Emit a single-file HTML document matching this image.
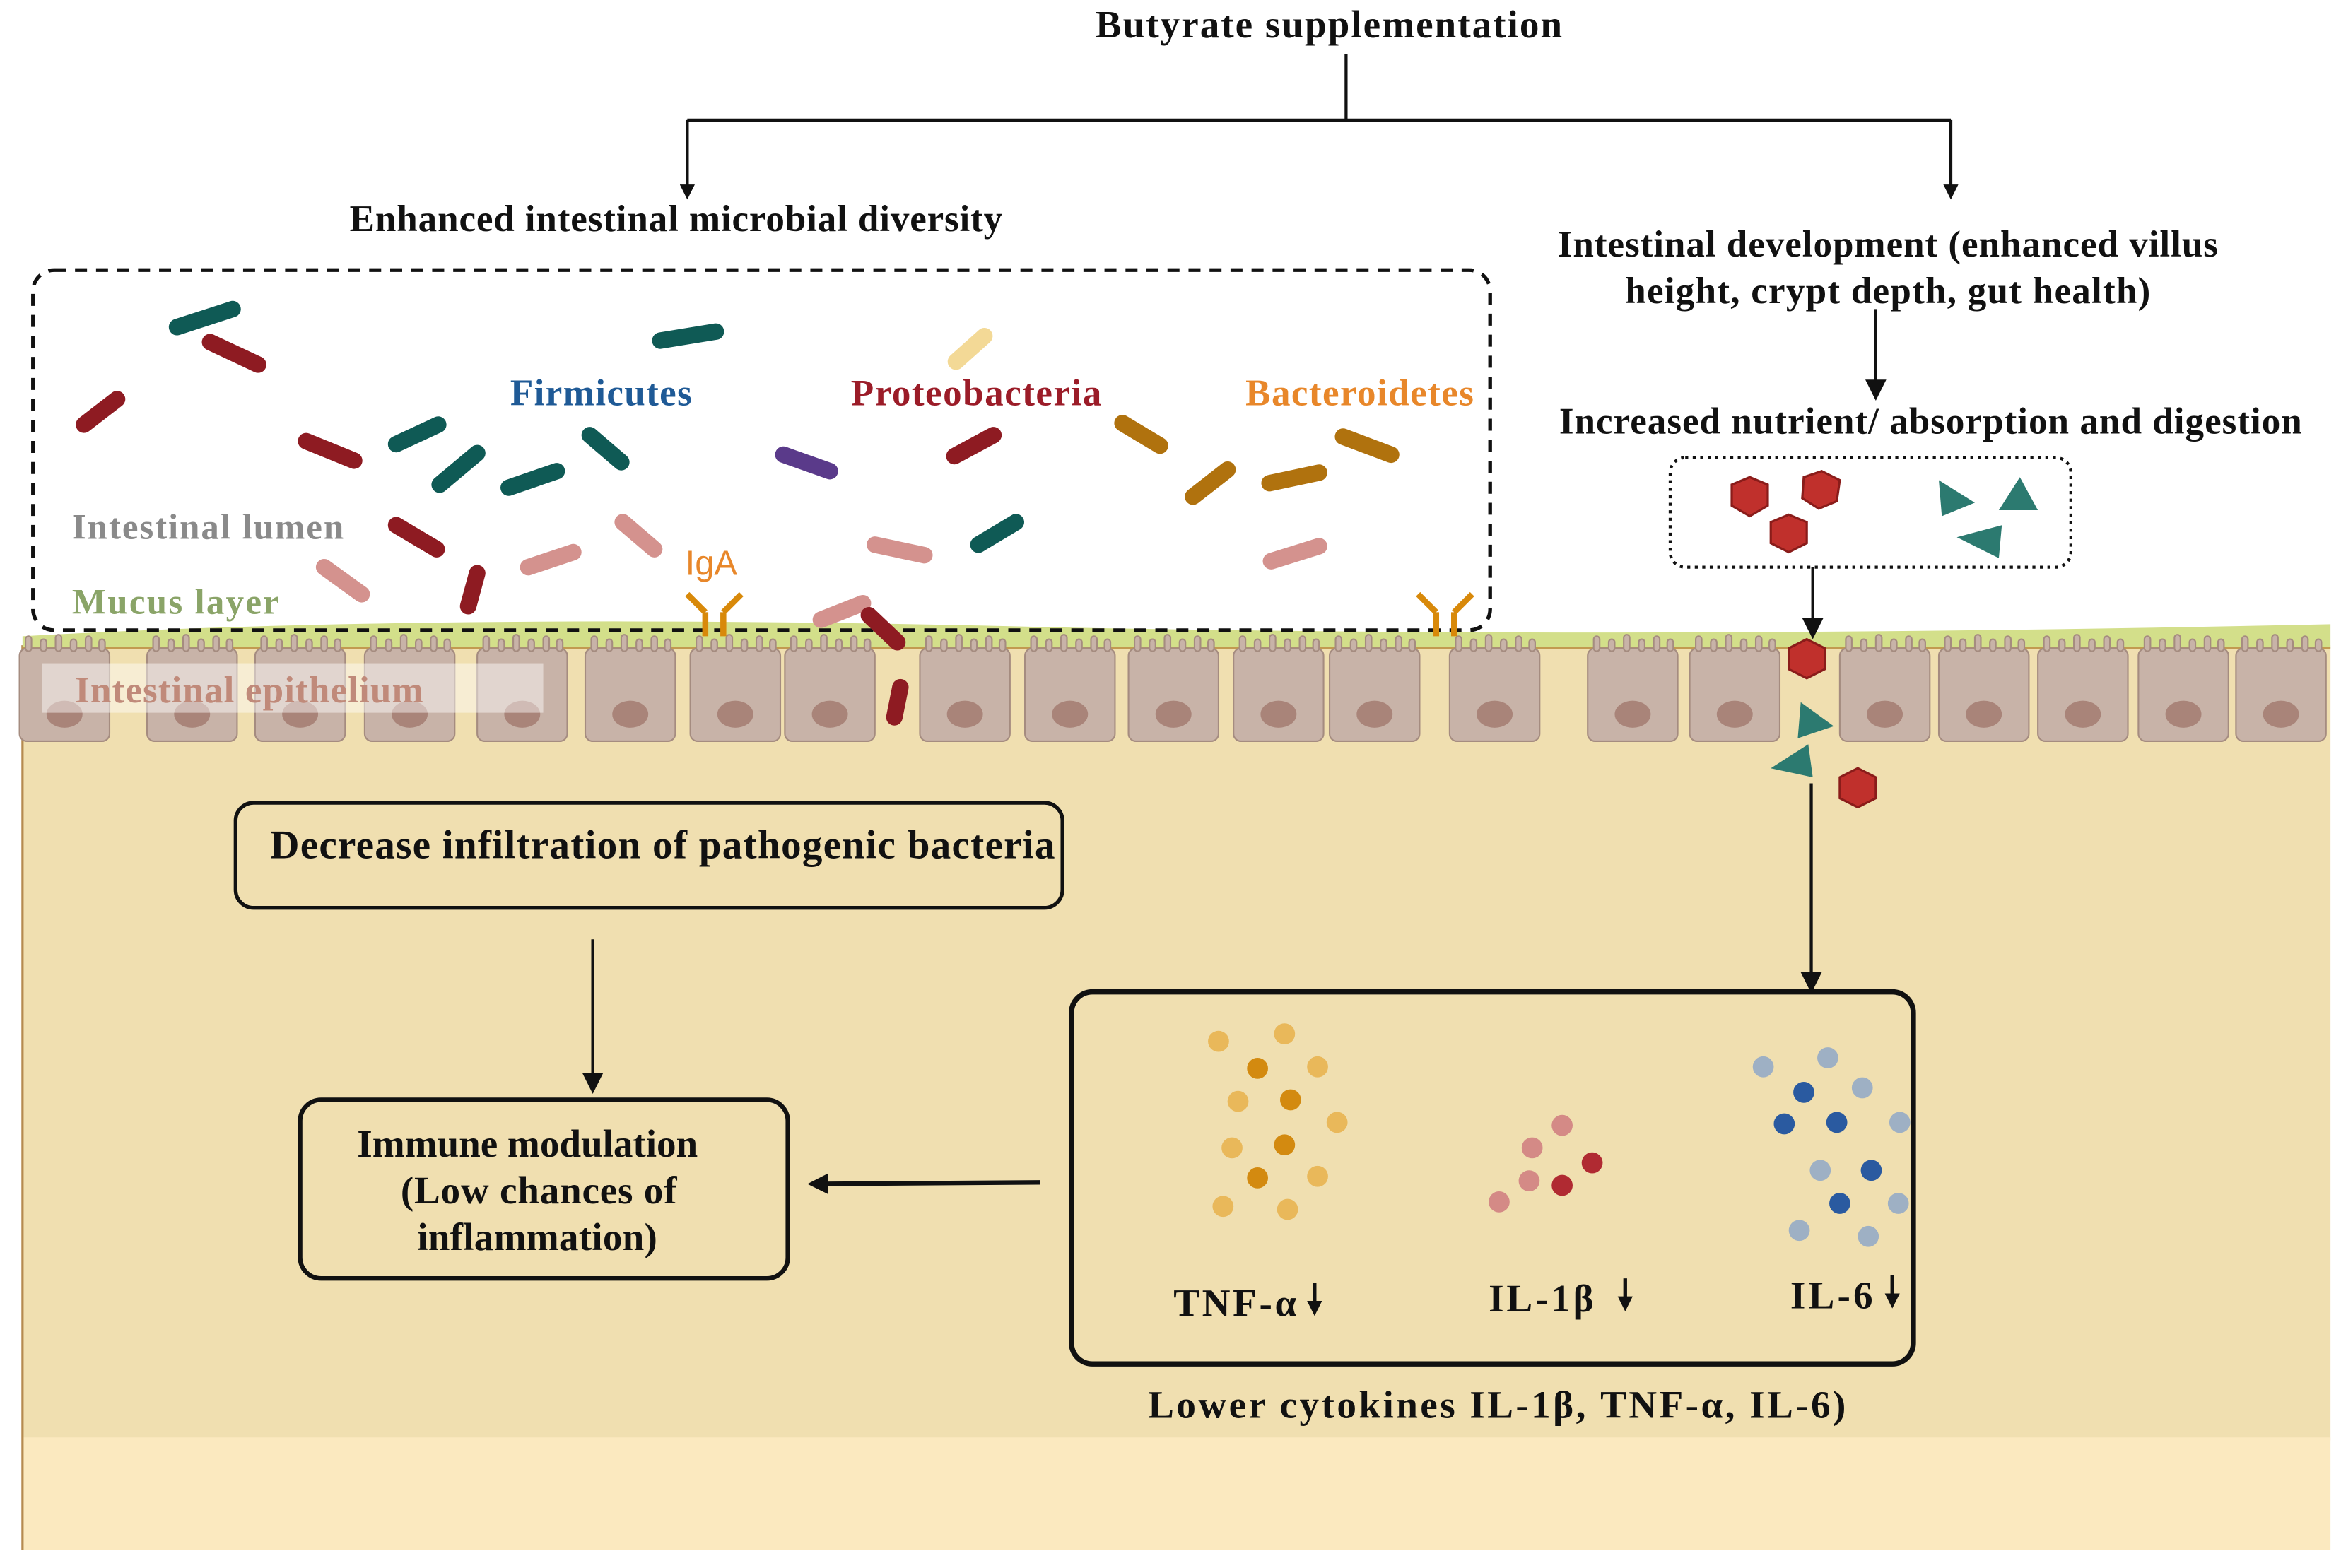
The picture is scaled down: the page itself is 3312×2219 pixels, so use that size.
<!DOCTYPE html>
<html><head><meta charset="utf-8"><style>html,body{margin:0;padding:0;background:#fff}svg{display:block}text{font-family:"Liberation Serif",serif;font-weight:bold}</style></head><body>
<svg width="3312" height="2219" viewBox="0 0 1560 1045" preserveAspectRatio="none" xmlns="http://www.w3.org/2000/svg">
<defs><marker id="a" markerWidth="10" markerHeight="10" refX="5" refY="5" orient="auto" markerUnits="userSpaceOnUse"><path d="M0,0 L10,5 L0,10 z" fill="#111"/></marker>
<marker id="b" markerWidth="14" markerHeight="14" refX="7" refY="7" orient="auto" markerUnits="userSpaceOnUse"><path d="M0,0 L14,7 L0,14 z" fill="#111"/></marker>
<g id="c"><rect x="0" y="0" width="60" height="62" rx="5"/><rect x="4" y="-8" width="4" height="10" rx="2"/><rect x="14" y="-6" width="4" height="8" rx="2"/><rect x="24" y="-9" width="4" height="11" rx="2"/><rect x="34" y="-6" width="4" height="8" rx="2"/><rect x="44" y="-8" width="4" height="10" rx="2"/><rect x="53" y="-6" width="4" height="8" rx="2"/><ellipse cx="30" cy="44" rx="12" ry="9" fill="#a98479" stroke="none"/></g></defs>
<!-- tissue -->
<rect x="15" y="430" width="1538" height="530" fill="#f0dfb0"/>
<rect x="15" y="958" width="1538" height="75" fill="#fbe9bf"/>
<line x1="15" y1="430" x2="15" y2="1033" stroke="#b58a50" stroke-width="1.5"/>
<path d="M15,432 L15,424 Q300,408 700,418 Q1100,426 1553,416 L1553,432 Z" fill="#d3df8a"/>
<line x1="15" y1="432" x2="1553" y2="432" stroke="#c29a50" stroke-width="1.5"/>
<g fill="#c8b3a8" stroke="#a58c80" stroke-width="1">
<use href="#c" x="13" y="432"/><use href="#c" x="98" y="432"/><use href="#c" x="170" y="432"/><use href="#c" x="243" y="432"/><use href="#c" x="318" y="432"/><use href="#c" x="390" y="432"/><use href="#c" x="460" y="432"/><use href="#c" x="523" y="432"/><use href="#c" x="613" y="432"/><use href="#c" x="683" y="432"/><use href="#c" x="752" y="432"/><use href="#c" x="822" y="432"/><use href="#c" x="886" y="432"/><use href="#c" x="966" y="432"/><use href="#c" x="1058" y="432"/><use href="#c" x="1126" y="432"/><use href="#c" x="1226" y="432"/><use href="#c" x="1292" y="432"/><use href="#c" x="1358" y="432"/><use href="#c" x="1425" y="432"/><use href="#c" x="1490" y="432"/>
</g>
<rect x="28" y="442" width="334" height="33" fill="#fff" opacity="0.45"/>
<text x="50" y="468" font-size="25" fill="#c08a7a" textLength="232">Intestinal epithelium</text>
<!-- top -->
<text x="730" y="25" font-size="26" fill="#111" textLength="311">Butyrate supplementation</text>
<path d="M897,36 V80 M458,80 H1300" stroke="#111" stroke-width="2" fill="none"/>
<line x1="458" y1="80" x2="458" y2="128" stroke="#111" stroke-width="2" marker-end="url(#a)"/>
<line x1="1300" y1="80" x2="1300" y2="128" stroke="#111" stroke-width="2" marker-end="url(#a)"/>
<text x="233" y="154" font-size="25" fill="#111" textLength="435">Enhanced intestinal microbial diversity</text>
<text x="1038" y="171" font-size="25" fill="#111" textLength="440">Intestinal development (enhanced villus</text>
<text x="1083" y="202" font-size="25" fill="#111" textLength="350">height, crypt depth, gut health)</text>
<line x1="1250" y1="206" x2="1250" y2="260" stroke="#111" stroke-width="2" marker-end="url(#b)"/>
<text x="1039" y="289" font-size="25" fill="#111" textLength="495">Increased nutrient/ absorption and digestion</text>
<rect x="1113" y="305" width="267" height="73" rx="10" fill="none" stroke="#111" stroke-width="2" stroke-dasharray="2,3"/>
<rect x="22" y="180" width="971" height="240" rx="14" fill="none" stroke="#111" stroke-width="2.5" stroke-dasharray="8,6"/>
<!-- bacteria -->
<g stroke-linecap="round" stroke-width="11" fill="none">
<path d="M118,218 L155,206" stroke="#0f5a55"/><path d="M140,228 L172,243" stroke="#8e1b22"/><path d="M56,283 L78,266" stroke="#8e1b22"/>
<path d="M440,227 L477,221" stroke="#0f5a55"/><path d="M637,241 L656,224" stroke="#f3d996"/>
<path d="M204,294 L236,307" stroke="#8e1b22"/><path d="M264,296 L292,283" stroke="#0f5a55"/><path d="M293,323 L318,302" stroke="#0f5a55"/><path d="M339,325 L371,314" stroke="#0f5a55"/><path d="M393,290 L414,308" stroke="#0f5a55"/>
<path d="M522,303 L553,314" stroke="#5a3a8a"/><path d="M636,304 L662,290" stroke="#8e1b22"/><path d="M748,282 L773,297" stroke="#b0720e"/><path d="M795,331 L818,313" stroke="#b0720e"/><path d="M846,322 L879,315" stroke="#b0720e"/><path d="M895,291 L927,303" stroke="#b0720e"/>
<path d="M264,350 L291,366" stroke="#8e1b22"/><path d="M216,378 L241,396" stroke="#d4928e"/><path d="M318,382 L312,404" stroke="#8e1b22"/><path d="M352,378 L382,368" stroke="#d4928e"/><path d="M415,348 L436,366" stroke="#d4928e"/><path d="M583,363 L616,370" stroke="#d4928e"/><path d="M652,363 L677,348" stroke="#0f5a55"/><path d="M847,374 L879,364" stroke="#d4928e"/>
<path d="M547,413 L575,402" stroke="#d4928e"/><path d="M579,410 L598,428" stroke="#8e1b22"/><path d="M600,458 L596,478" stroke="#8e1b22"/>
</g>
<text x="340" y="270" font-size="25" fill="#1f5a96" textLength="121">Firmicutes</text>
<text x="567" y="270" font-size="25" fill="#9b1c28" textLength="167">Proteobacteria</text>
<text x="830" y="270" font-size="25" fill="#e8872a" textLength="152">Bacteroidetes</text>
<text x="48" y="359" font-size="24" fill="#8a8a8a" textLength="181">Intestinal lumen</text>
<text x="48" y="409" font-size="24" fill="#8aa468" textLength="138">Mucus layer</text>
<text x="474" y="383" font-size="23" text-anchor="middle" fill="#e8872a" style="font-family:'Liberation Sans',sans-serif;font-weight:normal">IgA</text>
<g stroke="#d8890a" stroke-width="4" fill="none"><path d="M458,396 L470,408 M494,396 L482,408 M470,408 V424 M482,408 V424"/><path d="M945,396 L957,408 M981,396 L969,408 M957,408 V424 M969,408 V424"/></g>
<!-- nutrients -->
<g fill="#c0302c" stroke="#8a1c1a" stroke-width="1.5">
<polygon points="1166,318 1178,323 1178,337 1166,344 1154,337 1154,323"/><polygon points="1214,314 1226,320 1224,334 1212,339 1201,332 1202,318"/><polygon points="1192,343 1204,348 1204,362 1192,368 1180,362 1180,348"/><polygon points="1204,426 1216,432 1216,446 1204,452 1192,446 1192,432"/><polygon points="1238,512 1250,518 1250,532 1238,538 1226,532 1226,518"/></g>
<g fill="#2c7a70"><polygon points="1292,320 1316,335 1294,344"/><polygon points="1346,318 1358,340 1332,340"/><polygon points="1304,358 1334,350 1332,372"/><polygon points="1200,468 1222,484 1198,492"/><polygon points="1205,496 1208,518 1180,512"/></g>
<line x1="1208" y1="378" x2="1208" y2="419" stroke="#111" stroke-width="2" marker-end="url(#b)"/>
<line x1="1207" y1="522" x2="1207" y2="655" stroke="#111" stroke-width="2" marker-end="url(#b)"/>
<!-- boxes -->
<rect x="157" y="535" width="551" height="70" rx="12" fill="none" stroke="#111" stroke-width="2.5"/>
<text x="180" y="572" font-size="27" fill="#111" textLength="523">Decrease infiltration of pathogenic bacteria</text>
<line x1="395" y1="626" x2="395" y2="722" stroke="#111" stroke-width="2" marker-end="url(#b)"/>
<rect x="200" y="733" width="325" height="119" rx="14" fill="none" stroke="#111" stroke-width="3"/>
<text x="238" y="771" font-size="26" fill="#111" textLength="227">Immune modulation</text>
<text x="267" y="802" font-size="26" fill="#111" textLength="184">(Low chances of</text>
<text x="278" y="833" font-size="26" fill="#111" textLength="160">inflammation)</text>
<line x1="693" y1="788" x2="545" y2="789" stroke="#111" stroke-width="3" marker-end="url(#b)"/>
<rect x="714" y="661" width="561" height="248" rx="14" fill="none" stroke="#111" stroke-width="3.5"/>
<g fill="#e9b85a"><circle cx="812" cy="694" r="7"/><circle cx="856" cy="689" r="7"/><circle cx="878" cy="711" r="7"/><circle cx="825" cy="734" r="7"/><circle cx="891" cy="748" r="7"/><circle cx="821" cy="765" r="7"/><circle cx="878" cy="784" r="7"/><circle cx="815" cy="804" r="7"/><circle cx="858" cy="806" r="7"/></g>
<g fill="#d38a10"><circle cx="838" cy="712" r="7"/><circle cx="860" cy="733" r="7"/><circle cx="856" cy="763" r="7"/><circle cx="838" cy="785" r="7"/></g>
<g fill="#d48a86"><circle cx="1041" cy="750" r="7"/><circle cx="1021" cy="765" r="7"/><circle cx="1019" cy="787" r="7"/><circle cx="999" cy="801" r="7"/></g>
<g fill="#b02a32"><circle cx="1061" cy="775" r="7"/><circle cx="1041" cy="790" r="7"/></g>
<g fill="#9eb0c4"><circle cx="1175" cy="711" r="7"/><circle cx="1218" cy="705" r="7"/><circle cx="1241" cy="725" r="7"/><circle cx="1266" cy="748" r="7"/><circle cx="1213" cy="780" r="7"/><circle cx="1265" cy="802" r="7"/><circle cx="1199" cy="820" r="7"/><circle cx="1245" cy="824" r="7"/></g>
<g fill="#2a5aa0"><circle cx="1202" cy="728" r="7"/><circle cx="1189" cy="749" r="7"/><circle cx="1224" cy="748" r="7"/><circle cx="1247" cy="780" r="7"/><circle cx="1226" cy="802" r="7"/></g>
<text x="782" y="877" font-size="26" fill="#111" textLength="82">TNF-α</text>
<text x="992" y="874" font-size="26" fill="#111" textLength="70">IL-1β</text>
<text x="1193" y="872" font-size="26" fill="#111" textLength="55">IL-6</text>
<g stroke="#111" stroke-width="2.5"><line x1="876" y1="855" x2="876" y2="872" marker-end="url(#a)"/><line x1="1083" y1="852" x2="1083" y2="869" marker-end="url(#a)"/><line x1="1261" y1="850" x2="1261" y2="867" marker-end="url(#a)"/></g>
<text x="765" y="945" font-size="26" fill="#111" textLength="465">Lower cytokines IL-1β, TNF-α, IL-6)</text>
</svg>
</body></html>
